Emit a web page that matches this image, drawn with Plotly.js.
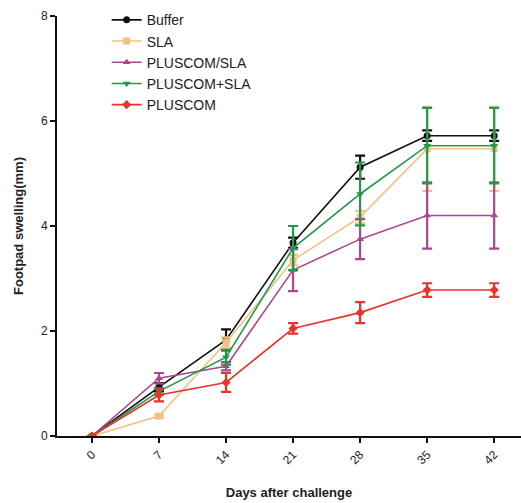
<!DOCTYPE html>
<html><head><meta charset="utf-8">
<script src="https://cdn.plot.ly/plotly-3.0.1.min.js"></script>
<style>html,body{margin:0;padding:0;background:#fff}#chart{width:521px;height:503px}</style>
</head><body><div id="chart"></div>
<script>
const days = [0, 7, 14, 21, 28, 35, 42];
const tickLabels = ['0','7','14','21','28','35','42'];
const seriesNames = ['Buffer','SLA','PLUSCOM/SLA','PLUSCOM+SLA','PLUSCOM'];
const buffer      = [0, 0.93, 1.83, 3.68, 5.12, 5.72, 5.72];
const bufferErr   = [0, 0.08, 0.20, 0.10, 0.22, 0.10, 0.10];
const sla         = [0, 0.38, 1.78, 3.35, 4.17, 5.47, 5.47];
const slaErr      = [0, 0.03, 0.10, 0.10, 0.12, 0.80, 0.80];
const pluscomSla    = [0, 1.10, 1.33, 3.16, 3.75, 4.20, 4.20];
const pluscomSlaErr = [0, 0.10, 0.08, 0.40, 0.38, 0.63, 0.63];
const pluscomPlusSla    = [0, 0.85, 1.50, 3.58, 4.61, 5.53, 5.53];
const pluscomPlusSlaErr = [0, 0.06, 0.14, 0.42, 0.60, 0.72, 0.72];
const pluscom     = [0, 0.78, 1.02, 2.05, 2.35, 2.78, 2.78];
const pluscomErr  = [0, 0.12, 0.18, 0.10, 0.20, 0.13, 0.13];

const colors = ['#111111','#f3c185','#a8488f','#1f9a48','#e8322a'];
const symbols = ['circle','square','triangle-up','triangle-down','diamond'];
const vals = [buffer, sla, pluscomSla, pluscomPlusSla, pluscom];
const errs = [bufferErr, slaErr, pluscomSlaErr, pluscomPlusSlaErr, pluscomErr];

const traces = seriesNames.map((n,i)=>({
  type:'scatter', mode:'lines+markers', name:n, x:days, y:vals[i],
  line:{color:colors[i], width:1.6},
  marker:{color:colors[i], symbol:symbols[i], size:7},
  error_y:{type:'data', array:errs[i], visible:true, color:colors[i], thickness:2.2, width:5}
}));

const layout = {
  width:521, height:503,
  margin:{l:57, r:0, t:16, b:67},
  paper_bgcolor:'#fff', plot_bgcolor:'#fff',
  font:{family:'Liberation Sans, Arial, sans-serif', color:'#222', size:12},
  showlegend:true,
  legend:{x:0.107, y:1.028, xanchor:'left', yanchor:'top', bgcolor:'rgba(0,0,0,0)',
          font:{size:14, color:'#222'}, tracegroupgap:0},
  xaxis:{range:[-3.65,44.8], tickvals:days, ticktext:tickLabels, tickangle:-45,
         showgrid:false, zeroline:false, showline:true, linecolor:'#111', linewidth:2,
         ticks:'outside', ticklen:5, tickwidth:2, tickcolor:'#111',
         tickfont:{size:12, color:'#222'},
         title:{text:'<b>Days after challenge</b>', font:{size:13, color:'#222'}, standoff:22}},
  yaxis:{range:[0,8], tickvals:[0,2,4,6,8], showgrid:false, zeroline:false,
         showline:true, linecolor:'#111', linewidth:2,
         ticks:'outside', ticklen:5, tickwidth:2, tickcolor:'#111',
         tickfont:{size:12, color:'#222'},
         title:{text:'<b>Footpad swelling(mm)</b>', font:{size:13, color:'#222'}, standoff:14}}
};
Plotly.newPlot('chart', traces, layout, {displayModeBar:false, staticPlot:true});
</script></body></html>
